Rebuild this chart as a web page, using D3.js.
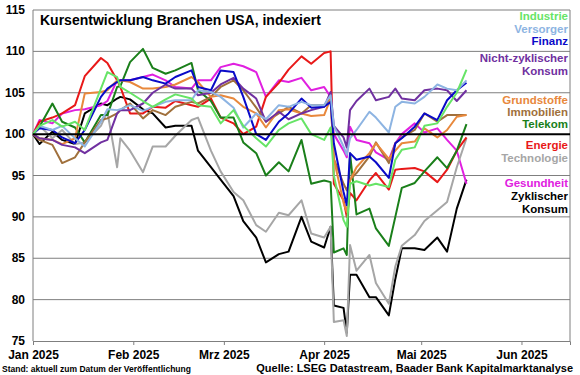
<!DOCTYPE html>
<html>
<head>
<meta charset="utf-8">
<script src="https://cdn.jsdelivr.net/npm/d3@7"></script>
<style>
  body { margin: 0; background: #fff; }
  svg { font-family: Arial, "Liberation Sans", sans-serif; }
</style>
</head>
<body>
<svg id="chart" width="580" height="375"></svg>
<script>
var dates = ["2025-01-01","2025-01-03","2025-01-07","2025-01-10","2025-01-14","2025-01-17","2025-01-22","2025-01-24","2025-01-27","2025-01-28","2025-01-31",
  "2025-02-04","2025-02-07","2025-02-11","2025-02-14","2025-02-19","2025-02-21","2025-02-25","2025-02-28",
  "2025-03-04","2025-03-07","2025-03-11","2025-03-14","2025-03-18","2025-03-21","2025-03-25","2025-03-28",
  "2025-04-01","2025-04-03","2025-04-04","2025-04-07","2025-04-08","2025-04-09","2025-04-11","2025-04-15","2025-04-17","2025-04-21","2025-04-23","2025-04-25","2025-04-29",
  "2025-05-02","2025-05-06","2025-05-09","2025-05-12","2025-05-15"];

var industrie = [100,101,101.7,100.9,101.5,100.5,105.5,107.5,106.9,105.7,105, 104,103.3,104.2,104.8,104.3,103.5,103.3,101.3, 102.9,101,99.5,98.5,100.5,101.3,101.9,100, 99.3,100.8,95,89.6,88.8,94,94.3,93.8,94,93.6,96.9,98.1,98.4, 101,101.3,103.3,105,107.8];
var versorger = [100,101,100.5,101,99.5,98.5,101.5,103,102.9,103,103.5, 102.8,103.3,103.9,104.1,104.1,105.3,105.1,104.5, 103.2,100.8,102.5,101.8,103.5,103.3,103.9,103.5, 103.5,104.7,101,98.5,97.5,99.5,100.5,102.7,102,100.2,103.3,103.9,103.7, 104.5,106,105.5,105.3,106.5];
var finanz = [100,100.7,100.5,99.6,98.9,100.5,104.5,105.5,106.3,106.5,106.5, 106.9,106.5,106.1,106.9,107.7,105.7,105.3,107.7, 107.5,104.5,100,99.3,101.5,102.5,104.3,103.2, 103.3,103.9,98.9,93,91.4,97.7,96.9,97.3,96.6,94.7,98.9,99.5,100.9, 102.5,101.7,104.1,105.3,106.2];
var nichtZyklisch = [100,99.5,99.3,98.7,98.4,97.7,99,99.3,102.5,102.9,102.9, 103.7,105,106,105.5,105.5,104.7,105,106, 106.8,105.5,104.3,101.5,102.7,101.8,102.5,102.9, 103.3,105.1,101,99.6,98.4,102.9,104,105.5,104.1,104.5,105.5,104.3,104.1, 105.3,105.5,105.3,104,105.3];
var grundstoffe = [100,99.5,99.3,98.8,99.5,104.9,105.1,105.3,106.5,106.5,106.3, 105.5,105.5,105.7,106,106.9,106.3,104.5,104.7, 104.3,103.3,102.5,100.8,102.9,103,102.5,102.2, 102.3,104.3,97,91.7,90.6,94.4,96,97.7,98.9,97,98,98.9,99.1, 100.7,99.6,100.5,102.1,102.3];
var immobilien = [100,99.3,98.7,96.5,97.2,99,101.7,101.9,102.5,102.9,103.7, 101.9,102.9,102.3,103.3,103.9,103.7,104.5,105.7, 106.5,105.3,103.2,101.5,102.5,103.3,102.5,103.5, 103.5,104.3,97,94,93.2,94.5,95.3,97.3,99,96.5,98.9,99.6,100.5, 102.5,101.5,102.3,102.3,102.3];
var telekom = [100,100.9,103.7,101.5,100.8,99,102.3,102.3,105.7,105.8,108.7, 110.3,108,107.3,107.7,108.6,105.3,104,102, 102,99,97.7,95,96.6,95.5,99.3,94, 94.4,94.2,85.7,86.2,85.4,97.7,90.3,91,88.6,86.5,90,93.5,94.1, 95.5,97.2,95.9,98,101.2];
var energie = [100,101.5,102,102.5,103.5,107,109.2,108.6,106.5,105.7,102.5, 102.5,103.3,103.2,104,103.5,103.3,104.3,102, 101.3,100,100.9,104.5,106.2,107.8,109.4,108.5, 109.8,110,94,92,90,92.9,92,94.4,95.3,93.3,95.7,95.8,95.9, 95.5,94.2,95.7,98,99.6];
var technologie = [100,101,99.5,100.5,98.8,99,101,102.7,96,99.5,98, 95.4,98.5,98.5,99.8,101.7,102,98,95.5, 93,92,89,88.2,90.5,90.2,92,88, 87.5,88.8,77.3,77.5,75.6,86.6,83.5,85.4,82,79.5,84,86.5,87.8, 89.5,90.8,91.8,96,99.5];
var gesundheit = [100,101.7,101.3,102.5,102.9,103,103.5,104,106.5,106.5,106.5, 106.9,107.2,106.5,105.7,105.5,106.5,106.5,108.1, 108.5,108.2,107.5,104.5,106.5,106.3,106.8,105.3, 105.7,104.5,100,98,97.2,100.9,99.3,98.9,97.8,96.9,98.9,100,101.3, 100.2,100.7,99.3,98,94];
var zyklisch = [100,98.8,100.3,99.3,98.8,102.5,103.7,103.5,104.3,104.5,104.2, 103,102.5,100.8,101,101,98,96,94.5, 92.5,89.5,87.5,84.5,85.5,85.8,90,87, 86.3,88.8,79.3,79,76,83,83,80.3,80.3,78.1,82.5,86.2,86.2, 86,87.5,85.8,91,94.5];

var monthLabels = ["Jan 2025","Feb 2025","Mrz 2025","Apr 2025","Mai 2025","Jun 2025"];
var yTicks = [75,80,85,90,95,100,105,110,115];

// Legende: Name, Farbe, Werte
var series = [
  {name: ["Industrie"], color: "#66e466", values: industrie},
  {name: ["Versorger"], color: "#8db4e2", values: versorger},
  {name: ["Finanz"], color: "#0a0ac8", values: finanz},
  {name: ["Nicht-zyklischer", "Konsum"], color: "#7030a0", values: nichtZyklisch},
  {name: ["Grundstoffe"], color: "#e8883c", values: grundstoffe},
  {name: ["Immobilien"], color: "#a0703c", values: immobilien},
  {name: ["Telekom"], color: "#1a7f1a", values: telekom},
  {name: ["Energie"], color: "#e81818", values: energie},
  {name: ["Technologie"], color: "#a6a6a6", values: technologie},
  {name: ["Gesundheit"], color: "#e020e0", values: gesundheit},
  {name: ["Zyklischer", "Konsum"], color: "#000000", values: zyklisch}
];

var svg = d3.select("#chart");
// "top" ist im Browser reserviert -> eigene Namen
var plotL = 33, plotR = 570, plotT = 10, plotB = 341;

var parse = d3.timeParse("%Y-%m-%d");
var x = d3.scaleTime()
  .domain([parse("2025-01-01"), parse("2025-06-16")])
  .range([plotL, plotR]);
var y = d3.scaleLinear().domain([75, 115]).range([plotB, plotT]);

// Gitternetz
svg.append("g").selectAll("line")
  .data(yTicks.filter(function(d) { return d != 75 && d != 100; }))
  .enter().append("line")
  .attr("x1", plotL).attr("x2", plotR)
  .attr("y1", function(d) { return y(d); })
  .attr("y2", function(d) { return y(d); })
  .attr("stroke", "#7f7f7f").attr("stroke-width", 1);

// Rahmen rechts
svg.append("line").attr("x1", plotR).attr("x2", plotR).attr("y1", plotT).attr("y2", plotB)
  .attr("stroke", "#7f7f7f");

// y-Beschriftung
svg.append("g").selectAll("text")
  .data(yTicks).enter().append("text")
  .attr("x", 25).attr("y", function(d) { return y(d) + 4; })
  .attr("text-anchor", "end")
  .attr("font-size", 12).attr("font-weight", "bold")
  .text(function(d) { return d; });

// x-Achse
var xAxis = d3.axisBottom(x)
  .tickValues(d3.timeMonth.range(parse("2025-01-01"), parse("2025-06-02")))
  .tickSize(4)
  .tickFormat(function(d, i) { return monthLabels[i]; });
var gx = svg.append("g").attr("transform", "translate(0," + plotB + ")").call(xAxis);
gx.select(".domain").attr("stroke", "#7f7f7f");
gx.selectAll(".tick line").attr("stroke", "#7f7f7f");
gx.selectAll("text").attr("font-size", 12).attr("font-weight", "bold")
  .attr("font-family", "Arial, 'Liberation Sans', sans-serif").attr("fill", "#000").attr("dy", "0.9em");

// linke Achse
svg.append("line").attr("x1", plotL).attr("x2", plotL).attr("y1", plotT).attr("y2", plotB)
  .attr("stroke", "#7f7f7f");

// Linien
var line = d3.line()
  .x(function(d, i) { return x(parse(dates[i])); })
  .y(function(d) { return y(d); });

var drawOrder = series.slice().reverse();
svg.append("g").selectAll("path")
  .data(drawOrder).enter().append("path")
  .attr("d", function(d) { return line(d.values); })
  .attr("fill", "none")
  .attr("stroke", function(d) { return d.color; })
  .attr("stroke-width", 2)
  .attr("stroke-linejoin", "round");

// 100er Linie
svg.append("line").attr("x1", plotL).attr("x2", plotR).attr("y1", y(100)).attr("y2", y(100))
  .attr("stroke", "#000").attr("stroke-width", 2);

// Titel
svg.append("text").attr("x", 40).attr("y", 25)
  .attr("font-size", 14).attr("font-weight", "bold")
  .text("Kursentwicklung Branchen USA, indexiert");

// Legende
var legendY = [20, 33, 45, 62, 104, 116, 128, 149, 162, 187, 200];
series.forEach(function(s, i) {
  s.name.forEach(function(t, j) {
    svg.append("text")
      .attr("x", 568).attr("y", legendY[i] + j * 12.5)
      .attr("text-anchor", "end")
      .attr("font-size", 11.5).attr("font-weight", "bold")
      .attr("fill", s.color)
      .text(t);
  });
});

// Fußzeile
svg.append("text").attr("x", 2).attr("y", 372)
  .attr("font-size", 8.5).attr("font-weight", "bold")
  .text("Stand: aktuell zum Datum der Veröffentlichung");
svg.append("text").attr("x", 573).attr("y", 372)
  .attr("text-anchor", "end")
  .attr("font-size", 11).attr("font-weight", "bold")
  .text("Quelle: LSEG Datastream, Baader Bank Kapitalmarktanalyse");
</script>
</body>
</html>
